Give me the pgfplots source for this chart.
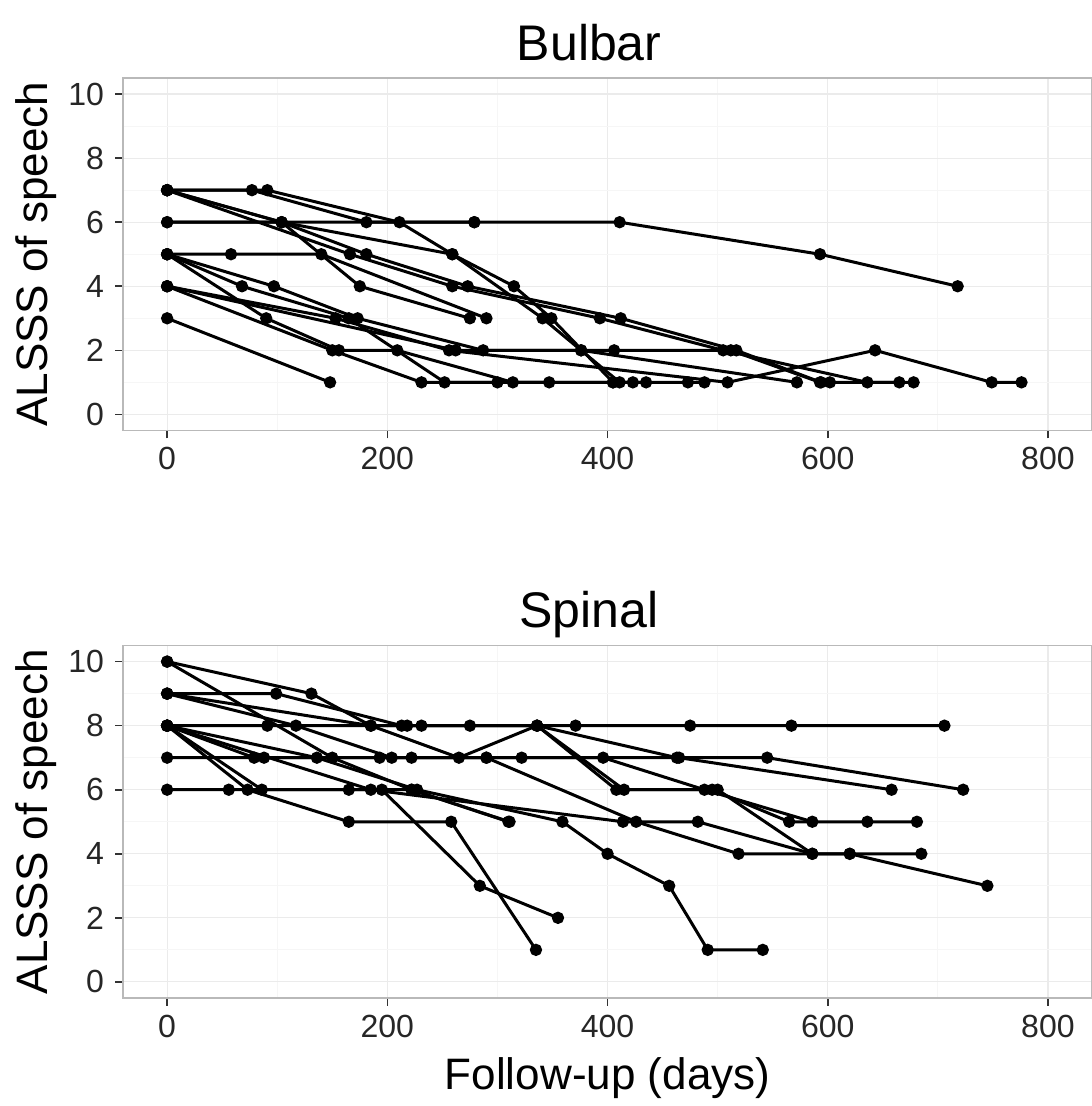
\documentclass[border=0pt]{standalone}
\usepackage{pgfplots}
\pgfplotsset{compat=1.18}
\usepackage{fontspec}
\setmainfont{Liberation Sans}

\pgfplotsset{
  subj/.style={black, solid, line width=1.5pt, mark=*, mark size=2.3pt, mark options={solid, fill=black}},
  ggpanel/.style={
    scale only axis, width=484pt, height=176pt,
    xmin=-40, xmax=840, ymin=-0.5, ymax=10.5,
    xtick={0,200,...,800}, ytick={0,2,...,10},
    minor xtick={100,300,500,700}, minor ytick={1,3,5,7,9},
    grid=both,
    major grid style={gray!16, line width=0.6pt},
    minor grid style={gray!7, line width=0.5pt},
    axis line style={gray!55, line width=0.8pt},
    tick align=outside, major tick length=4pt, minor tick length=0pt,
    tick style={black!80, line width=0.8pt},
    xtick pos=left, ytick pos=left,
    tick label style={font=\fontsize{16}{17}\selectfont, text=black!85},
    yticklabel style={xshift=-2pt},
    xticklabel style={yshift=-1pt},
    /pgf/number format/assume math mode=true,
    every axis title/.style={at={(axis description cs:0.481,1)}, anchor=base,
      yshift=9pt, font=\fontsize{25}{27}\selectfont},
    ylabel={ALSSS of speech},
    every axis y label/.style={at={(axis description cs:-0.0785,0.5)},
      rotate=90, anchor=base, font=\fontsize{22}{24}\selectfont},
    every axis x label/.style={at={(axis description cs:0.5,0)},
      anchor=base, yshift=-46pt, font=\fontsize{22}{24}\selectfont},
  }
}

\begin{document}
\begin{tikzpicture}
\useasboundingbox (-61.5pt,39pt) rectangle (484pt,-513.5pt);
% Bulbar onset
\begin{axis}[ggpanel, title={Bulbar}, at={(0,0)}, anchor=north west]
\addplot[subj] coordinates {(0,3)(148,1)};
\addplot[subj] coordinates {(0,6)(279,6)(411,6)(593,5)(718,4)};
\addplot[subj] coordinates {(0,7)(77,7)(181,6)(279,6)};
\addplot[subj] coordinates {(0,7)(91,7)(211,6)(259,5)(315,4)(349,3)(405,1)(423,1)};
\addplot[subj] coordinates {(0,7)(104,6)(181,5)(273,4)(412,3)(517,2)(594,1)(602,1)};
\addplot[subj] coordinates {(0,7)(166,5)(259,4)(393,3)(505,2)(636,1)(678,1)};
\addplot[subj] coordinates {(0,7)(104,6)(175,4)(275,3)};
\addplot[subj] coordinates {(0,6)(104,6)(259,5)(341,3)(376,2)(411,1)(435,1)};
\addplot[subj] coordinates {(0,5)(58,5)(140,5)(290,3)};
\addplot[subj] coordinates {(0,5)(68,4)(165,3)(252,1)(300,1)(347,1)};
\addplot[subj] coordinates {(0,5)(97,4)(173,3)(287,2)(406,2)(512,2)(593,1)(665,1)};
\addplot[subj] coordinates {(0,5)(90,3)(156,2)(209,2)(314,1)(473,1)(488,1)};
\addplot[subj] coordinates {(0,4)(153,3)(256,2)(509,1)(643,2)(749,1)(776,1)};
\addplot[subj] coordinates {(0,4)(150,2)(231,1)(405,1)};
\addplot[subj] coordinates {(0,4)(262,2)(376,2)(572,1)};
\end{axis}

% Spinal onset
\begin{axis}[ggpanel, title={Spinal}, at={(0,-283.5pt)}, anchor=north west,
  xlabel={Follow-up (days)}]
\addplot[subj] coordinates {(0,10)(131,9)(185,8)(218,8)(336,8)(408,6)(495,6)(565,5)(636,5)(681,5)};
\addplot[subj] coordinates {(0,10)(150,7)(222,6)(311,5)};
\addplot[subj] coordinates {(0,9)(99,9)(213,8)(275,8)(371,8)(475,8)(567,8)(706,8)};
\addplot[subj] coordinates {(0,9)(117,8)(204,7)(290,7)(396,7)(488,6)(586,5)};
\addplot[subj] coordinates {(0,9)(185,8)(265,7)(336,8)(463,7)(545,7)(723,6)};
\addplot[subj] coordinates {(0,8)(91,8)(231,8)(336,8)(415,6)(500,6)(586,4)(620,4)(685,4)};
\addplot[subj] coordinates {(0,8)(73,6)(165,5)(258,5)(335,1)};
\addplot[subj] coordinates {(0,8)(86,6)(195,6)(284,3)(355,2)};
\addplot[subj] coordinates {(0,8)(136,7)(227,6)(359,5)(400,4)(456,3)(491,1)(541,1)};
\addplot[subj] coordinates {(0,8)(79,7)(222,7)(322,7)(465,7)(658,6)};
\addplot[subj] coordinates {(0,7)(88,7)(193,7)(290,7)(426,5)(519,4)(620,4)(745,3)};
\addplot[subj] coordinates {(0,6)(56,6)(165,6)(222,6)(310,5)};
\addplot[subj] coordinates {(0,8)(185,6)(414,5)(482,5)(586,4)};
\end{axis}
\end{tikzpicture}
\end{document}
